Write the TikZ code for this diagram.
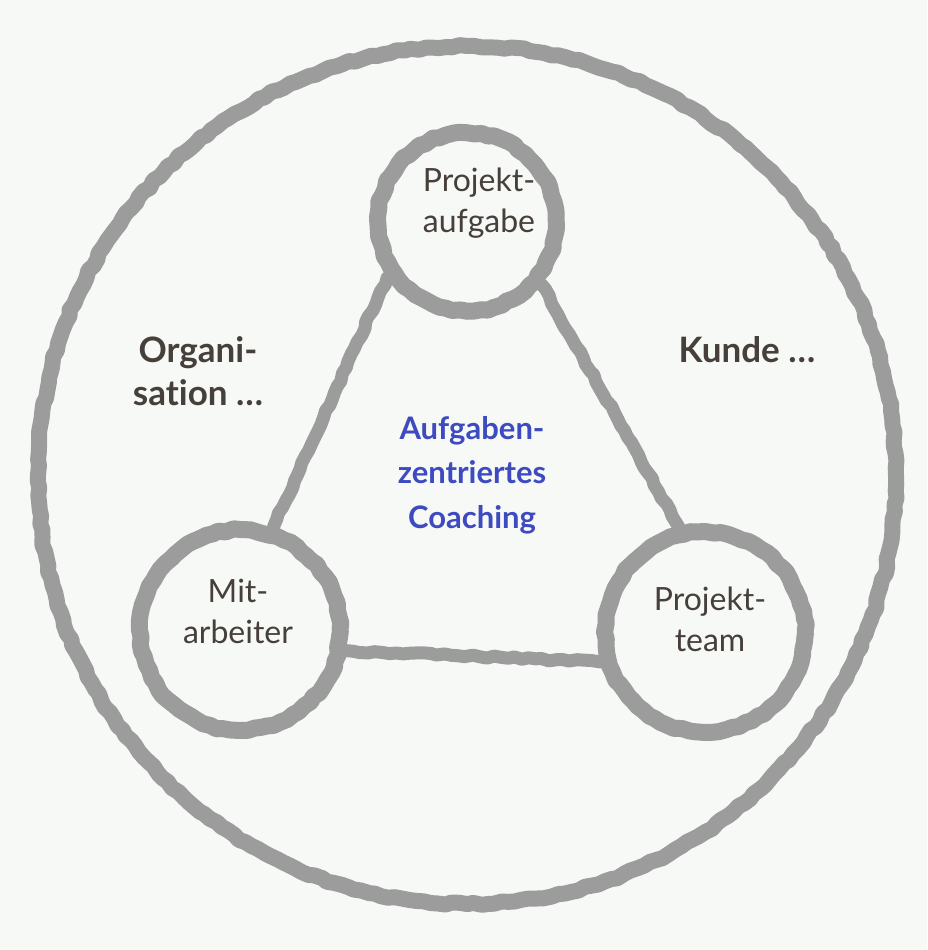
\documentclass[tikz,border=0pt]{standalone}
\usepackage{fontspec}
\setmainfont{Lato}[Ligatures=NoCommon]
\usetikzlibrary{decorations.pathmorphing}
\definecolor{bg}{RGB}{246,249,246}
\definecolor{chalk}{RGB}{156,156,156}
\definecolor{ink}{RGB}{70,63,58}
\definecolor{coach}{RGB}{62,74,192}
\pgfmathsetseed{7}
\begin{document}
\begin{tikzpicture}[x=1pt,y=-1pt,
  rough/.style={decorate, decoration={random steps, segment length=7pt, amplitude=1.3pt}, line join=round},
  ring/.style={circle, draw=chalk, line width=17pt, inner sep=0pt, rough},
  link/.style={draw=chalk, line width=13pt, line cap=round, rough},
  txt/.style={align=center, text=ink, font=\fontsize{32}{41}\selectfont},
  lab/.style={align=center, text=ink, font=\bfseries\fontsize{35}{43}\selectfont},
  blue/.style={align=center, text=coach, font=\bfseries\fontsize{31}{44.5}\selectfont}]
\fill[bg] (0,0) rectangle (927,950);
\useasboundingbox (0,0) rectangle (927,950);
\node[ring, line width=16pt, minimum size=858pt] (outer) at (467,475) {};
\node[ring, minimum size=178pt] (pa) at (467,222) {};
\node[ring, minimum size=200pt] (ma) at (240,630) {};
\node[ring, minimum size=200pt] (pt) at (705,632) {};
\draw[link] (pa.215) -- (ma.72);
\draw[link] (pa.320) -- (pt.104);
\draw[link] (ma.349) -- (pt.196);
\node[txt] (pat) at (479,203) {Projekt-\\aufgabe};
\node[txt] (mat) at (238,611) {Mit-\\arbeiter};
\node[txt] (ptt) at (710,619) {Projekt-\\team};
\node[lab] (org) at (198,371) {Organi-\\sation \dots};
\node[lab] (kun) at (747,350) {Kunde \dots};
\node[blue] (coa) at (472,475) {Aufgaben-\\zentriertes\\Coaching};
\end{tikzpicture}
\end{document}
